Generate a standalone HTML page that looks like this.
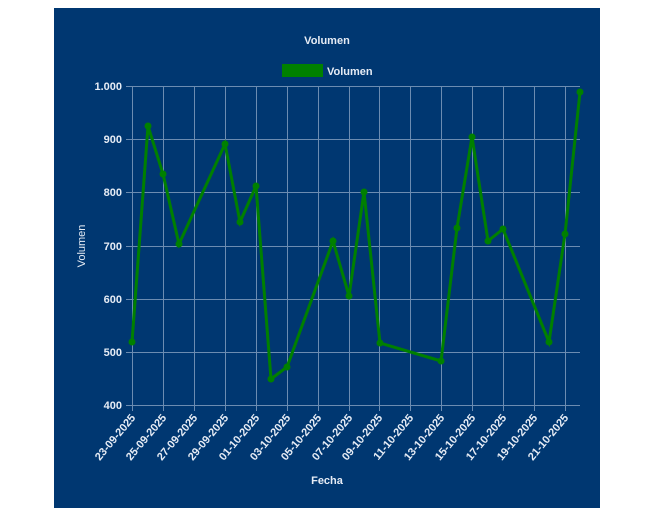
<!DOCTYPE html>
<html><head><meta charset="utf-8"><style>
html,body{margin:0;padding:0;background:#fff;}
svg{display:block;}
text{font-family:"Liberation Sans",Arial,sans-serif;fill:#e6ecf5;}
</style></head><body>
<svg width="660" height="511" viewBox="0 0 660 511" xmlns="http://www.w3.org/2000/svg">
<rect x="54" y="8" width="546" height="500" fill="#003771"/>
<text x="327" y="44" font-size="11" font-weight="bold" text-anchor="middle">Volumen</text>
<rect x="282" y="64" width="41" height="13" fill="#008000"/>
<text x="327" y="75" font-size="11" font-weight="bold">Volumen</text>
<g stroke="#7f9bbd" stroke-width="1" opacity="0.85">
<line x1="126" y1="86.5" x2="580" y2="86.5"/>
<line x1="126" y1="139.5" x2="580" y2="139.5"/>
<line x1="126" y1="192.5" x2="580" y2="192.5"/>
<line x1="126" y1="246.5" x2="580" y2="246.5"/>
<line x1="126" y1="299.5" x2="580" y2="299.5"/>
<line x1="126" y1="352.5" x2="580" y2="352.5"/>
<line x1="126" y1="405.5" x2="580" y2="405.5"/>
<line x1="132.5" y1="86" x2="132.5" y2="411"/>
<line x1="163.5" y1="86" x2="163.5" y2="411"/>
<line x1="194.5" y1="86" x2="194.5" y2="411"/>
<line x1="225.5" y1="86" x2="225.5" y2="411"/>
<line x1="256.5" y1="86" x2="256.5" y2="411"/>
<line x1="287.5" y1="86" x2="287.5" y2="411"/>
<line x1="318.5" y1="86" x2="318.5" y2="411"/>
<line x1="349.5" y1="86" x2="349.5" y2="411"/>
<line x1="379.5" y1="86" x2="379.5" y2="411"/>
<line x1="410.5" y1="86" x2="410.5" y2="411"/>
<line x1="441.5" y1="86" x2="441.5" y2="411"/>
<line x1="472.5" y1="86" x2="472.5" y2="411"/>
<line x1="503.5" y1="86" x2="503.5" y2="411"/>
<line x1="534.5" y1="86" x2="534.5" y2="411"/>
<line x1="565.5" y1="86" x2="565.5" y2="411"/>
</g>
<g font-size="11" font-weight="bold" text-anchor="end">
<text x="122" y="90">1.000</text>
<text x="122" y="143">900</text>
<text x="122" y="196">800</text>
<text x="122" y="250">700</text>
<text x="122" y="303">600</text>
<text x="122" y="356">500</text>
<text x="122" y="409">400</text>
</g>
<text transform="translate(85,246) rotate(-90)" font-size="11" text-anchor="middle">Volumen</text>
<text x="327" y="484" font-size="11" font-weight="bold" text-anchor="middle">Fecha</text>
<g font-size="11" font-weight="bold" text-anchor="end">
<text transform="translate(136,418) rotate(-50)">23-09-2025</text>
<text transform="translate(167,418) rotate(-50)">25-09-2025</text>
<text transform="translate(198,418) rotate(-50)">27-09-2025</text>
<text transform="translate(229,418) rotate(-50)">29-09-2025</text>
<text transform="translate(260,418) rotate(-50)">01-10-2025</text>
<text transform="translate(291,418) rotate(-50)">03-10-2025</text>
<text transform="translate(322,418) rotate(-50)">05-10-2025</text>
<text transform="translate(353,418) rotate(-50)">07-10-2025</text>
<text transform="translate(383,418) rotate(-50)">09-10-2025</text>
<text transform="translate(414,418) rotate(-50)">11-10-2025</text>
<text transform="translate(445,418) rotate(-50)">13-10-2025</text>
<text transform="translate(476,418) rotate(-50)">15-10-2025</text>
<text transform="translate(507,418) rotate(-50)">17-10-2025</text>
<text transform="translate(538,418) rotate(-50)">19-10-2025</text>
<text transform="translate(569,418) rotate(-50)">21-10-2025</text>
</g>
<polyline fill="none" stroke="#008000" stroke-width="3" stroke-linejoin="miter"
points="132,342 148,126 163,174 179,244 225,144 240,222 256,186 271,379 287,367 333,241 349,296 364,192 380,343 441,361 457,228 472,137 488,241 503,229 549,342 565,234 580,92"/>
<g fill="#008000">
<circle cx="132" cy="342" r="3.5"/><circle cx="148" cy="126" r="3.5"/><circle cx="163" cy="174" r="3.5"/>
<circle cx="179" cy="244" r="3.5"/><circle cx="225" cy="144" r="3.5"/><circle cx="240" cy="222" r="3.5"/>
<circle cx="256" cy="186" r="3.5"/><circle cx="271" cy="379" r="3.5"/><circle cx="287" cy="367" r="3.5"/>
<circle cx="333" cy="241" r="3.5"/><circle cx="349" cy="296" r="3.5"/><circle cx="364" cy="192" r="3.5"/>
<circle cx="380" cy="343" r="3.5"/><circle cx="441" cy="361" r="3.5"/><circle cx="457" cy="228" r="3.5"/>
<circle cx="472" cy="137" r="3.5"/><circle cx="488" cy="241" r="3.5"/><circle cx="503" cy="229" r="3.5"/>
<circle cx="549" cy="342" r="3.5"/><circle cx="565" cy="234" r="3.5"/><circle cx="580" cy="92" r="3.5"/>
</g>
</svg>
</body></html>
